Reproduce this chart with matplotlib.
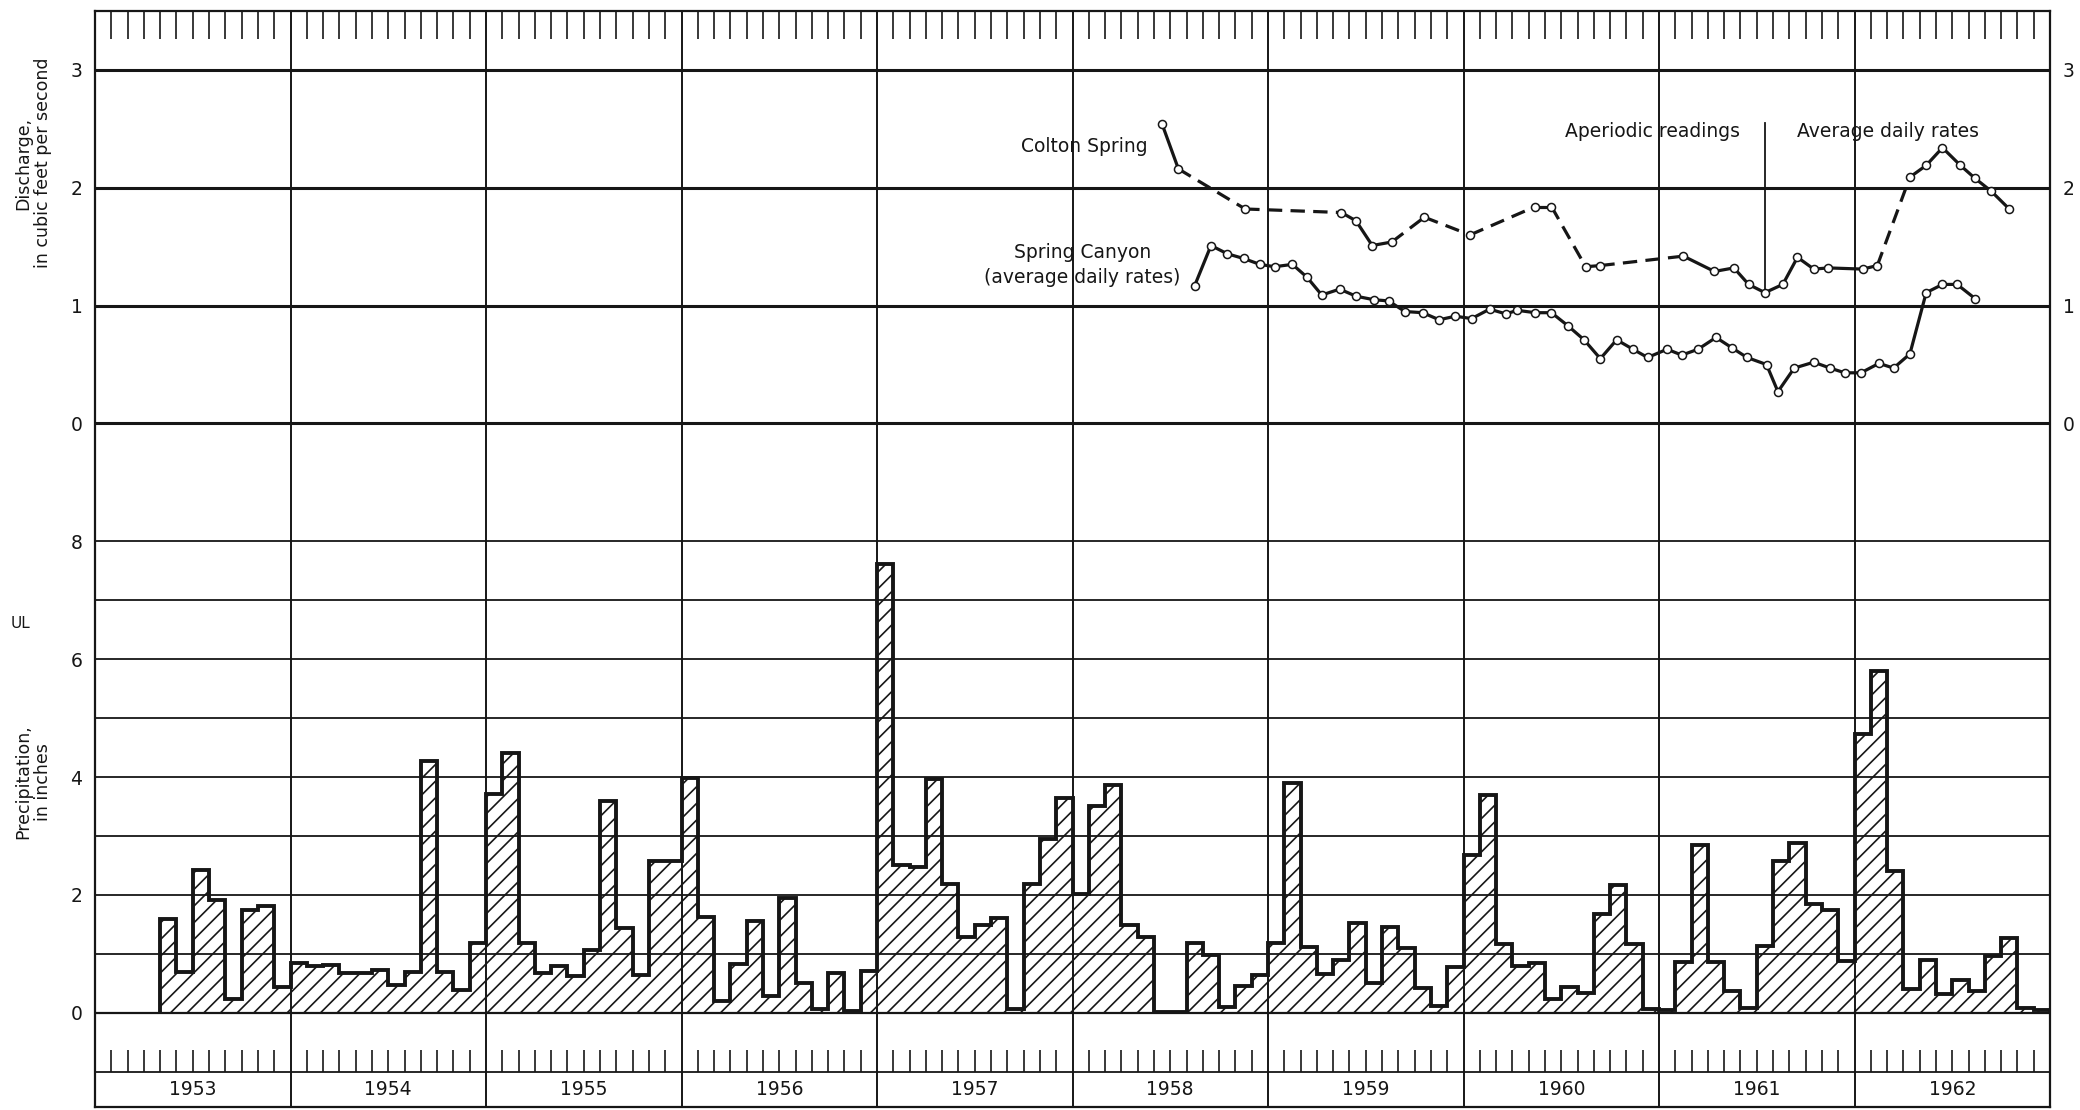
import numpy as np
import matplotlib.pyplot as plt

plt.rcParams['font.family'] = ['DejaVu Sans']
plt.rcParams['hatch.linewidth'] = 1.2
INK = '#161616'

years = [1953, 1954, 1955, 1956, 1957, 1958, 1959, 1960, 1961, 1962]

# monthly precipitation, in inches (Jan..Dec); record starts May 1953
p1953 = [None, None, None, None, 1.59, 0.69, 2.42, 1.92, 0.23, 1.75, 1.81, 0.44]
p1954 = [0.84, 0.79, 0.81, 0.67, 0.68, 0.72, 0.47, 0.69, 4.27, 0.69, 0.38, 1.19]
p1955 = [3.71, 4.41, 1.19, 0.68, 0.79, 0.62, 1.07, 3.59, 1.44, 0.64, 2.58, 2.58]
p1956 = [3.98, 1.62, 0.20, 0.82, 1.55, 0.28, 1.95, 0.51, 0.06, 0.67, 0.03, 0.71]
p1957 = [7.62, 2.50, 2.47, 3.97, 2.18, 1.29, 1.49, 1.60, 0.06, 2.18, 2.94, 3.65]
p1958 = [2.02, 3.50, 3.87, 1.49, 1.29, 0.02, 0.02, 1.18, 0.98, 0.10, 0.45, 0.64]
p1959 = [1.19, 3.90, 1.12, 0.65, 0.90, 1.53, 0.51, 1.46, 1.10, 0.42, 0.12, 0.77]
p1960 = [2.68, 3.70, 1.16, 0.79, 0.85, 0.23, 0.44, 0.33, 1.67, 2.17, 1.17, 0.07]
p1961 = [0.04, 0.86, 2.85, 0.86, 0.37, 0.08, 1.13, 2.58, 2.88, 1.84, 1.75, 0.88]
p1962 = [4.73, 5.80, 2.40, 0.40, 0.89, 0.31, 0.55, 0.37, 0.97, 1.27, 0.08, 0.05]

# discharge, cfs; x = months counted from 1 Jan 1953
colton_month = [65.5, 66.5, 70.6, 76.5, 77.4, 78.4, 79.6, 81.6, 84.4, 88.4,
                89.4, 91.5, 92.4, 97.5, 99.4, 100.6, 101.5, 102.5, 103.6, 104.5,
                105.5, 106.4, 108.5, 109.4, 111.4, 112.4, 113.4, 114.5, 115.4,
                116.4, 117.5]
colton_cfs = [2.54, 2.16, 1.82, 1.79, 1.72, 1.51, 1.54, 1.75, 1.60, 1.84,
              1.84, 1.33, 1.34, 1.42, 1.29, 1.32, 1.18, 1.11, 1.18, 1.41,
              1.31, 1.32, 1.31, 1.34, 2.09, 2.19, 2.34, 2.19, 2.08, 1.97, 1.82]
colton_dashed = [1, 2, 6, 7, 8, 10, 12, 23]  # segment i -> i+1 drawn dashed

canyon_month = [67.5, 68.5, 69.5, 70.5, 71.5, 72.4, 73.5, 74.4, 75.3, 76.4,
                77.4, 78.5, 79.4, 80.4, 81.5, 82.5, 83.5, 84.5, 85.6, 86.6,
                87.3, 88.4, 89.4, 90.4, 91.4, 92.4, 93.4, 94.4, 95.3, 96.5,
                97.4, 98.4, 99.5, 100.5, 101.4, 102.6, 103.3, 104.3, 105.5,
                106.5, 107.4, 108.4, 109.5, 110.4, 111.4, 112.4, 113.4, 114.3,
                115.4]
canyon_cfs = [1.17, 1.51, 1.44, 1.40, 1.35, 1.33, 1.35, 1.24, 1.09, 1.14,
              1.08, 1.05, 1.04, 0.95, 0.94, 0.88, 0.91, 0.89, 0.97, 0.93,
              0.96, 0.94, 0.94, 0.83, 0.71, 0.55, 0.71, 0.63, 0.56, 0.63,
              0.58, 0.63, 0.73, 0.64, 0.56, 0.50, 0.27, 0.47, 0.52, 0.47,
              0.43, 0.43, 0.51, 0.47, 0.59, 1.11, 1.18, 1.18, 1.06]

precip = p1953 + p1954 + p1955 + p1956 + p1957 + p1958 + p1959 + p1960 + p1961 + p1962
first = next(i for i, v in enumerate(precip) if v is not None)
vals = np.array(precip[first:], dtype=float)
edges = np.arange(first, len(precip) + 1)

fig = plt.figure(figsize=(20.8, 11.1), dpi=100)
rect = [95 / 2080, 3 / 1110, 1955 / 2080, 1096 / 1110]
ax = fig.add_axes(rect)
ax.set_xlim(0, 120)
ax.set_ylim(-1.6, 17.0)

# lower panel grid
for p in range(0, 9):
    ax.axhline(p, color=INK, lw=1.6 if p == 0 else 1.3, zorder=1)
ax.axhline(-1, color=INK, lw=1.3, zorder=1)
ax.vlines(np.arange(12, 120, 12), -1.6, 17.0, color=INK, lw=1.4, zorder=1)

# month ticks top and bottom
month_edges = [m for m in range(1, 120) if m % 12]
ax.vlines(month_edges, 16.52, 17.0, color=INK, lw=1.2)
ax.vlines(month_edges, -1.0, -0.63, color=INK, lw=1.2)

ax.stairs(vals, edges, baseline=0, fill=True, facecolor='none', edgecolor=INK,
          hatch='//', lw=2.8, zorder=2)

for i, yr in enumerate(years):
    ax.text(12 * i + 6, -1.31, str(yr), ha='center', va='center', fontsize=13.5, color=INK)

for s in ax.spines.values():
    s.set_linewidth(1.6)
    s.set_color(INK)
ax.set_xticks([])
ax.set_yticks([0, 2, 4, 6, 8])
ax.tick_params(axis='y', length=0, labelleft=True, labelright=True,
               labelsize=13.5, pad=9, labelcolor=INK)

# upper panel: discharge on its own scale
ax2 = ax.twinx()
ax2.set_ylim(-5.8, 3.5)
for s in ax2.spines.values():
    s.set_visible(False)
for d in [0, 1, 2, 3]:
    ax2.axhline(d, color=INK, lw=2.2, zorder=1)
ax2.set_yticks([0, 1, 2, 3])
ax2.tick_params(axis='y', length=0, labelleft=True, labelright=True,
                labelsize=13.5, pad=9, labelcolor=INK)

for i in range(len(colton_month) - 1):
    ls = (0, (4.5, 2.6)) if i in colton_dashed else '-'
    ax2.plot(colton_month[i:i + 2], colton_cfs[i:i + 2], color=INK, lw=2.3,
             ls=ls, zorder=3)
ax2.plot(colton_month, colton_cfs, 'o', ls='none', ms=5.8, mfc='white',
         mec=INK, mew=1.1, zorder=4)
ax2.plot(canyon_month, canyon_cfs, '-o', color=INK, lw=2.3, ms=5.8,
         mfc='white', mec=INK, mew=1.1, zorder=4)

# separator between aperiodic readings and average daily rates
ax2.plot([colton_month[17]] * 2, [2.55, colton_cfs[17]], color=INK, lw=1.3, zorder=3)

ax2.text(64.6, 2.35, 'Colton Spring', ha='right', va='center', fontsize=13.5, color=INK)
ax2.text(60.6, 1.45, 'Spring Canyon', ha='center', va='center', fontsize=13.5, color=INK)
ax2.text(60.6, 1.24, '(average daily rates)', ha='center', va='center', fontsize=13.5, color=INK)
ax2.text(101.0, 2.48, 'Aperiodic readings', ha='right', va='center', fontsize=13.5, color=INK)
ax2.text(104.5, 2.48, 'Average daily rates', ha='left', va='center', fontsize=13.5, color=INK)

fig.text(33 / 2080, 1 - 163 / 1110, 'Discharge,\nin cubic feet per second', rotation=90,
         ha='center', va='center', multialignment='center', fontsize=12.5,
         linespacing=1.1, color=INK)
fig.text(33 / 2080, 1 - 782 / 1110, 'Precipitation,\nin inches', rotation=90,
         ha='center', va='center', multialignment='center', fontsize=12.5,
         linespacing=1.1, color=INK)
fig.text(21 / 2080, 1 - 623 / 1110, 'UL', ha='center', va='center', fontsize=11, color=INK)

fig.savefig('out.png', dpi=100, facecolor='white')
